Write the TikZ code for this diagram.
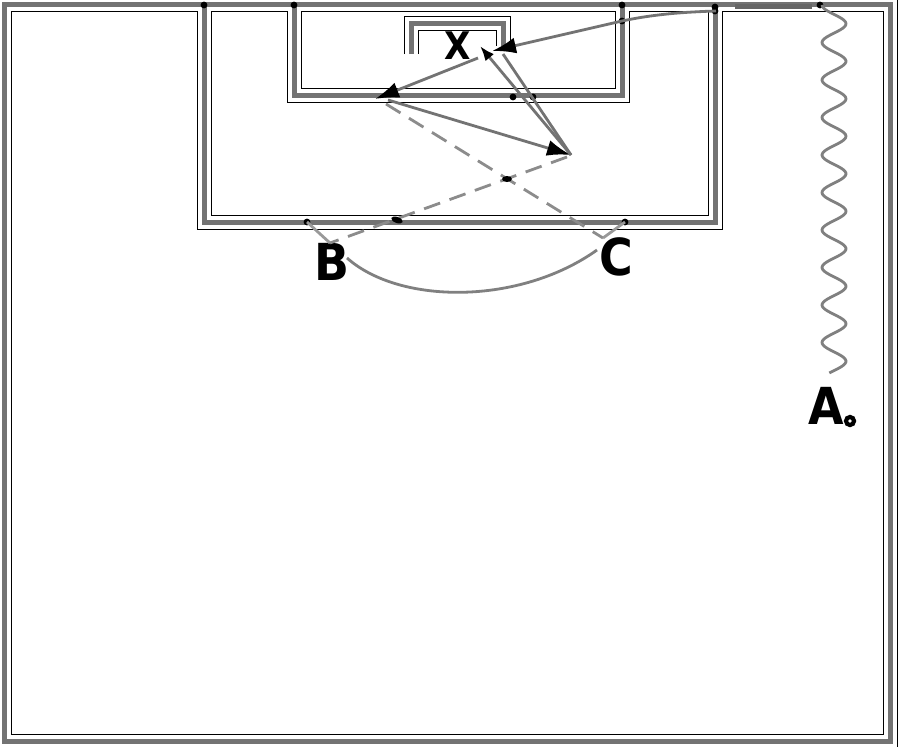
\documentclass[tikz,border=0pt]{standalone}
\usepackage{fontspec}
\setmainfont{DejaVu Sans}
\usetikzlibrary{arrows.meta}
\begin{document}
\begin{tikzpicture}[x=1pt,y=-1pt,
  fieldblack/.style={line width=15pt,black,line join=miter},
  fieldwhite/.style={line width=13pt,white,line join=miter},
  fieldgray/.style={line width=5pt,black!55,line join=miter},
  pass/.style={line width=2.8pt,black!55},
  runline/.style={line width=2.8pt,black!45,dash pattern=on 17pt off 10pt},
  headtip/.style={-{Latex[length=24pt,width=16pt,black]}},
  smalltip/.style={-{Latex[length=15pt,width=11pt,black]}},
  lbl/.style={font=\fontsize{51}{51}\selectfont\bfseries,inner sep=0pt,xscale=0.9},
  jdot/.style={fill=black,draw=none}]
\useasboundingbox (0,0) rectangle (900,747);
\fill[white] (0,0) rectangle (900,747);
\def\FieldLines{(4,4) rectangle (890,741)
  (204,4) -- (204,222) -- (715,222) -- (715,4)
  (294,4) -- (294,95) -- (622,95) -- (622,4)
  (411,54) -- (411,23) -- (503,23) -- (503,46)}
\draw[fieldblack] \FieldLines;
\draw[fieldwhite] \FieldLines;
\draw[fieldgray] \FieldLines;
% junction dots
\foreach \p in {(204,5),(294,5),(622,5),(715,7),(820,5),(622,21),(715,11),(307,222),(625,222),(513,97),(533,97)}
  \fill[jdot] \p circle (3.4pt);
% labels
\node[lbl] (X) at (458,46) {\fontsize{38}{38}\selectfont X};
\node[lbl] (B) at (332,262) {B};
\node[lbl] (C) at (616,257) {C};
\node[lbl] (A) at (826,406) {A};
\draw[black,line width=4.2pt,fill=white] (850,421) circle (4pt);
% coordinates
\coordinate (crossS) at (812,6);
\coordinate (bend) at (716,11);
\coordinate (gk) at (622,21);
\coordinate (nearpost) at (492,51);
\coordinate (Xfoot) at (478,58);
\coordinate (P) at (375,99);
\coordinate (Pstart) at (388,100);
\coordinate (Q) at (571,155);
\coordinate (Qs) at (567,157);
\coordinate (Xback) at (480,46);
\coordinate (L2s) at (503,54);
\coordinate (D1s) at (386,104);
\coordinate (Btop) at (330,243);
\coordinate (Ctop) at (603,238);
\coordinate (bB) at (307,222);
\coordinate (bC) at (625,222);
\coordinate (Bright) at (347,258);
\coordinate (Cleft) at (597,250);
% dribble of A
\draw[line width=2.8pt,black!50,line join=round]
  plot[domain=0:368,samples=240,smooth] ({834-12*cos(\x*9.6)},{5+\x});
% cross from the byline
\draw[line width=5pt,black!60] (crossS) -- (735,6);
\draw[pass,headtip] (bend) .. controls (685,12) and (655,14) .. (gk) -- (nearpost);
% passes in the box
\draw[pass,headtip] (Xfoot) -- (P);
\draw[pass,headtip] (Pstart) -- (Q);
\draw[pass,smalltip] (Q) -- (Xback);
\draw[pass] (L2s) -- (Q);
% runs
\draw[runline] (D1s) -- (Ctop);
\draw[runline] (Qs) -- (Btop);
\draw[pass,black!40] (bB) -- (Btop);
\draw[pass,black!40] (bC) -- (Ctop);
\fill[black] (507,179) ellipse (5pt and 3pt);
\fill[black,rotate around={-20:(397,220)}] (397,220) ellipse (6pt and 3pt);
% curved run B to C
\draw[pass,black!50] (Bright) .. controls (400,305) and (520,305) .. (Cleft);
\end{tikzpicture}
\end{document}
